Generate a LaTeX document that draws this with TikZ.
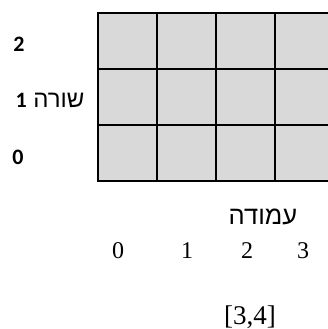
\documentclass[tikz,border=0pt]{standalone}
\usepackage{fontspec}
\setmainfont{Liberation Serif}
\newfontfamily\hebfont[Script=Hebrew]{Liberation Sans}
\newfontfamily\lblfont[Scale=2.2,BoldFont={Carlito Bold}]{Carlito}
\TeXXeTstate=1
\begin{document}
\begin{tikzpicture}[x=1pt,y=-1pt,
  cellbox/.style={draw=black,fill=black!15,line width=2pt},
  rowlbl/.style={inner sep=0pt,anchor=center,font=\normalsize\lblfont\bfseries},
  collbl/.style={inner sep=0pt,anchor=base,font=\fontsize{24}{28}\selectfont}]
\useasboundingbox (0,0) rectangle (328,329);
\foreach \c/\x in {0/98,1/157,2/216,3/275}{
  \foreach \r/\y in {0/125,1/69,2/13}{
    \draw[cellbox] (\x,\y) rectangle ++(59,56) node[pos=.5] (cell\c\r) {};
  }
}
\node[rowlbl] (r2) at (19,44) {2};
\node[inner sep=0pt,anchor=center] (r1) at (50,100) {\hebfont\fontsize{24}{28}\selectfont\beginR שורה {\normalsize\lblfont\bfseries 1}\endR};
\node[rowlbl] (r0) at (18,157) {0};
\node[inner sep=0pt,anchor=base] (col) at (263,224) {\hebfont\fontsize{25.5}{30}\selectfont\beginR עמודה\endR};
\node[collbl] (c0) at (118,258) {0};
\node[collbl] (c1) at (187,258) {1};
\node[collbl] (c2) at (247,258) {2};
\node[collbl] (c3) at (303,258) {3};
\node[inner sep=0pt,anchor=base,font=\fontsize{27}{32}\selectfont] (dim) at (250,324) {[3,4]};
\end{tikzpicture}
\end{document}
